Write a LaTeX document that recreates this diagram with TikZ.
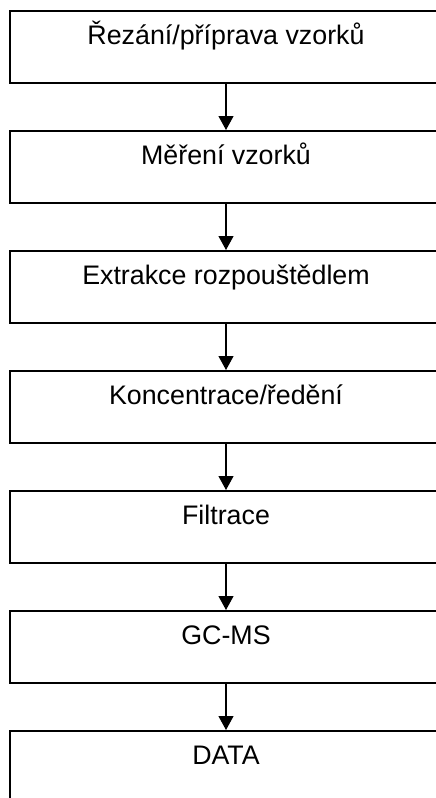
\documentclass[tikz,border=0pt]{standalone}
\usepackage{fontspec}
\setmainfont{Liberation Sans}
\usetikzlibrary{arrows.meta}
\begin{document}
\begin{tikzpicture}[x=1pt,y=-1pt,
  stepbox/.style={draw=black,line width=2pt,rectangle,minimum width=432pt,
    inner xsep=0pt,inner ysep=0pt,text height=33pt,text depth=39pt,
    anchor=north,font=\fontsize{26.8pt}{30pt}\selectfont},
  flow/.style={line width=1.1pt,-{Triangle[width=15pt,length=14pt]}}]
\useasboundingbox (0,0) rectangle (436,798);
\clip (0,0) rectangle (436,798);
\fill[white] (0,0) rectangle (436,798);
\node[stepbox] (b1) at (226,10) {Řezání/příprava vzorků};
\node[stepbox] (b2) at (226,130) {Měření vzorků};
\node[stepbox] (b3) at (226,250) {Extrakce rozpouštědlem};
\node[stepbox] (b4) at (226,370) {Koncentrace/ředění};
\node[stepbox] (b5) at (226,490) {Filtrace};
\node[stepbox] (b6) at (226,610) {GC-MS};
\node[stepbox] (b7) at (226,730) {DATA};
\foreach \a/\b in {b1/b2,b2/b3,b3/b4,b4/b5,b5/b6,b6/b7}
  \draw[flow] (\a.south) -- (\b.north);
\end{tikzpicture}
\end{document}
